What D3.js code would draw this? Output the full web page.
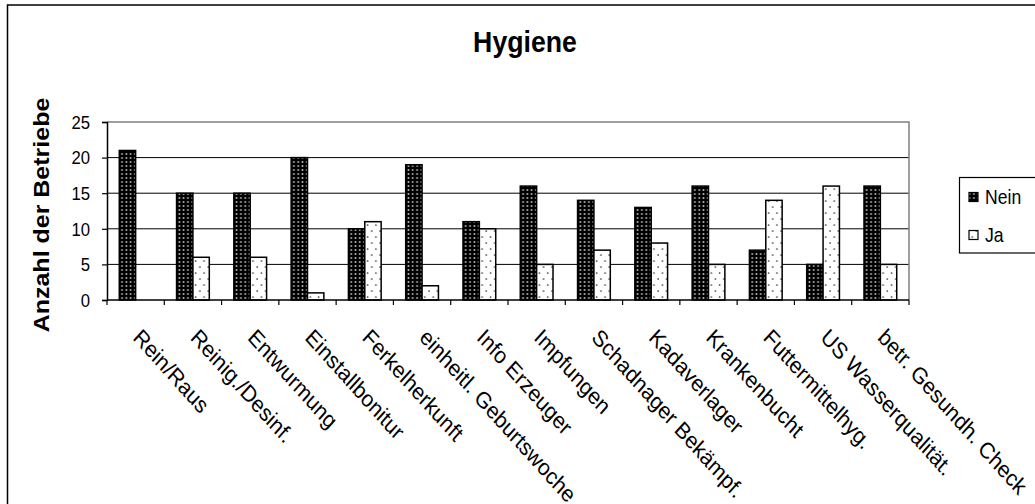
<!DOCTYPE html>
<html>
<head>
<meta charset="utf-8">
<script src="https://cdn.jsdelivr.net/npm/d3@7"></script>
<style>
  html, body { margin: 0; padding: 0; background: #fff; }
  svg { display: block; }
  text { font-family: "Liberation Sans", Arial, sans-serif; fill: #000; }
</style>
</head>
<body>
<svg id="chart" width="1035" height="504"></svg>
<script>
// Hygiene survey: number of farms answering "Nein" / "Ja" per measure
const categories = [
  "Rein/Raus", "Reinig./Desinf.", "Entwurmung", "Einstallbonitur",
  "Ferkelherkunft", "einheitl. Geburtswoche", "Info Erzeuger", "Impfungen",
  "Schadnager Bekämpf.", "Kadaverlager", "Krankenbucht", "Futtermittelhyg.",
  "US Wasserqualität.", "betr. Gesundh. Check"
];
const seriesNames = ["Nein", "Ja"];
const neinValues = [21, 15, 15, 20, 10, 19, 11, 16, 14, 13, 16, 7, 5, 16];
const jaValues   = [0, 6, 6, 1, 11, 2, 10, 5, 7, 8, 5, 14, 16, 5];
const yTicks = [0, 5, 10, 15, 20, 25];
const titleText = "Hygiene";
const yTitleText = "Anzahl der Betriebe";

const svg = d3.select("#chart");
const SX = 0.88; // horizontal compression of the lettering

// patterns for the two series
const defs = svg.append("defs");
const pNein = defs.append("pattern").attr("id", "pat-nein")
  .attr("patternUnits", "userSpaceOnUse").attr("width", 4.3).attr("height", 4);
pNein.append("rect").attr("width", 4.3).attr("height", 4).attr("fill", "#000");
pNein.append("circle").attr("cx", 2.15).attr("cy", 2).attr("r", 0.95).attr("fill", "#b8b8b8");

const pJa = defs.append("pattern").attr("id", "pat-ja")
  .attr("patternUnits", "userSpaceOnUse").attr("width", 8.4).attr("height", 12);
pJa.append("rect").attr("width", 8.4).attr("height", 12).attr("fill", "#fff");
pJa.append("circle").attr("cx", 2).attr("cy", 3).attr("r", 0.85).attr("fill", "#333");
pJa.append("circle").attr("cx", 6.2).attr("cy", 9).attr("r", 0.85).attr("fill", "#333");

const fills = { "Nein": "url(#pat-nein)", "Ja": "url(#pat-ja)" };

// outer chart frame
svg.append("rect")
  .attr("x", 7.5).attr("y", 5).attr("width", 1100).attr("height", 600)
  .attr("fill", "#fff").attr("stroke", "#000").attr("stroke-width", 1.5);

// plot area
const plot = { left: 107, right: 909, top: 122, bottom: 300 };

const x = d3.scaleBand().domain(categories)
  .range([plot.left, plot.right]).paddingInner(0).paddingOuter(0);
const y = d3.scaleLinear().domain([0, 25]).range([plot.bottom, plot.top]);

const bw = x.bandwidth();
const barW = bw / 3.5;
const inner = d3.scaleBand().domain(seriesNames)
  .range([0.75 * barW, 0.75 * barW + 2 * barW]).padding(0);

// gridlines
svg.append("g").selectAll("line")
  .data(yTicks.filter(t => t > 0 && t < 25))
  .join("line")
  .attr("x1", plot.left).attr("x2", plot.right)
  .attr("y1", d => y(d)).attr("y2", d => y(d))
  .attr("stroke", "#000").attr("stroke-width", 1);

// plot border (top and right, grey)
svg.append("path")
  .attr("d", `M${plot.left},${y(25)}H${plot.right}V${plot.bottom}`)
  .attr("fill", "none").attr("stroke", "#808080").attr("stroke-width", 1.5);

// bars
const rows = categories.map((c, i) => ({ cat: c, Nein: neinValues[i], Ja: jaValues[i] }));
const groups = svg.append("g").selectAll("g")
  .data(rows).join("g")
  .attr("transform", d => `translate(${x(d.cat)},0)`);
groups.selectAll("rect")
  .data(d => seriesNames.map(s => ({ s, v: d[s] })))
  .join("rect")
  .attr("x", d => inner(d.s))
  .attr("width", inner.bandwidth())
  .attr("y", d => y(d.v))
  .attr("height", d => plot.bottom - y(d.v))
  .attr("fill", d => fills[d.s])
  .attr("stroke", d => d.v > 0 ? "#000" : "none")
  .attr("stroke-width", 1.5);

// y axis
const yAxis = d3.axisLeft(y).tickValues(yTicks).tickSize(5).tickPadding(12).tickFormat(d3.format("d"));
const gy = svg.append("g").attr("transform", `translate(${plot.left},0)`).call(yAxis);
gy.select(".domain").attr("stroke", "#000").attr("stroke-width", 1.5);
gy.selectAll(".tick line").attr("stroke", "#000").attr("stroke-width", 1.2);
gy.selectAll(".tick text")
  .attr("font-size", 19)
  .attr("font-family", "'Liberation Sans', Arial, sans-serif")
  .attr("fill", "#000")
  .attr("x", null).attr("dy", null)
  .attr("dominant-baseline", "central")
  .attr("transform", `translate(-17,0) scale(${SX},1)`);

// x axis line with boundary ticks
svg.append("line")
  .attr("x1", plot.left).attr("x2", plot.right)
  .attr("y1", plot.bottom).attr("y2", plot.bottom)
  .attr("stroke", "#000").attr("stroke-width", 1.5);
const boundaries = categories.map(c => x(c)).concat([plot.right]);
svg.append("g").selectAll("line").data(boundaries).join("line")
  .attr("x1", d => d).attr("x2", d => d)
  .attr("y1", plot.bottom).attr("y2", plot.bottom + 5)
  .attr("stroke", "#000").attr("stroke-width", 1.2);

// rotated category labels
svg.append("g").selectAll("text").data(categories).join("text")
  .attr("transform", d => `translate(${x(d) + bw / 2 + 7},327) scale(0.9,1) rotate(45)`)
  .attr("dy", "0.72em")
  .attr("font-size", 23)
  .text(d => d);

// title
svg.append("text")
  .attr("transform", `translate(525,52) scale(0.92,1)`)
  .attr("text-anchor", "middle")
  .attr("font-size", 29).attr("font-weight", "bold")
  .text(titleText);

// y axis title
svg.append("text")
  .attr("transform", `translate(49,215) scale(${SX},1) rotate(-90)`)
  .attr("text-anchor", "middle")
  .attr("font-size", 25).attr("font-weight", "bold")
  .text(yTitleText);

// legend
const lg = svg.append("g");
lg.append("rect")
  .attr("x", 959.5).attr("y", 177.5).attr("width", 120).attr("height", 75.5)
  .attr("fill", "#fff").attr("stroke", "#000").attr("stroke-width", 1.2);
const legendRows = [{ s: "Nein", cy: 197 }, { s: "Ja", cy: 235 }];
lg.selectAll("rect.mk").data(legendRows).join("rect").attr("class", "mk")
  .attr("x", 969).attr("y", d => d.cy - 4.5).attr("width", 9).attr("height", 9)
  .attr("fill", d => fills[d.s]).attr("stroke", "#000").attr("stroke-width", 1.2);
lg.selectAll("text").data(legendRows).join("text")
  .attr("transform", d => `translate(985,${d.cy}) scale(${SX},1)`)
  .attr("dominant-baseline", "central")
  .attr("font-size", 20)
  .text(d => d.s);
</script>
</body>
</html>
